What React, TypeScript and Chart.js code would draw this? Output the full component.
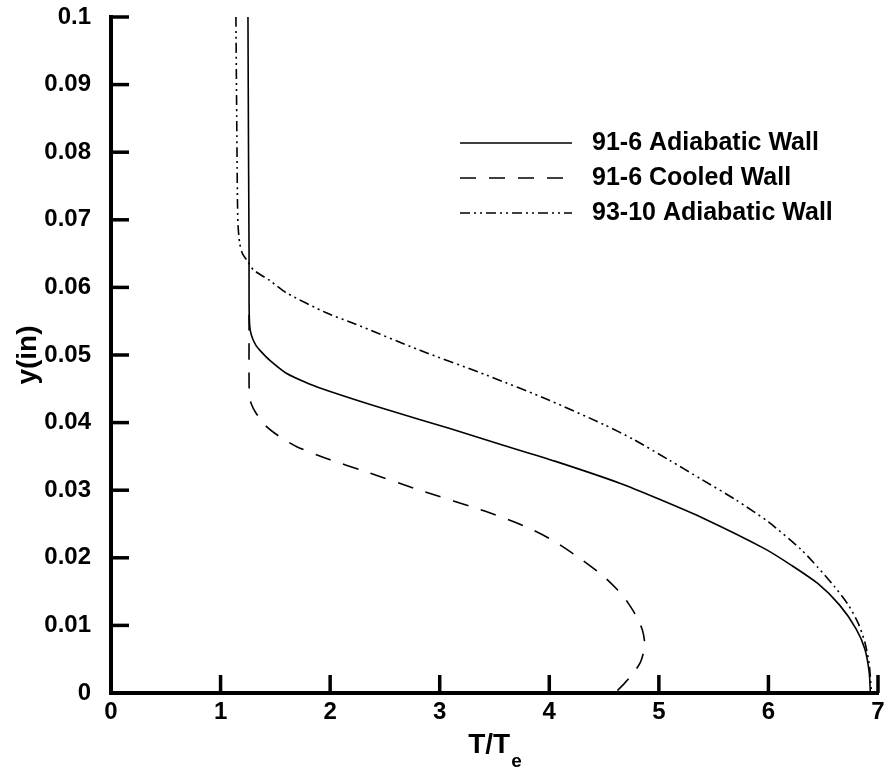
import React, { useEffect, useRef } from "react";
import { Chart, registerables } from "chart.js";

Chart.register(...registerables);

// ---- data ----
const xTickValues = [0, 1, 2, 3, 4, 5, 6, 7];
const yTickValues = [0, 0.01, 0.02, 0.03, 0.04, 0.05, 0.06, 0.07, 0.08, 0.09, 0.1];

const seriesLabels = ["91-6 Adiabatic Wall", "91-6 Cooled Wall", "93-10 Adiabatic Wall"];

// 91-6 Adiabatic Wall (solid)
const adiab916X = [1.25, 1.255, 1.26, 1.26, 1.265, 1.28, 1.32, 1.37, 1.45, 1.6, 1.8, 2.0, 2.5, 3.1, 3.55, 4.05, 4.65, 5.0, 5.4, 5.96, 6.2, 6.45, 6.65, 6.8, 6.88, 6.92, 6.93];
const adiab916Y = [0.1, 0.08, 0.065, 0.058, 0.0545, 0.053, 0.0515, 0.0505, 0.0492, 0.0473, 0.0458, 0.0446, 0.042, 0.0391, 0.0368, 0.0343, 0.031, 0.0287, 0.0259, 0.0214, 0.019, 0.0162, 0.013, 0.0095, 0.0065, 0.003, 0];

// 91-6 Cooled Wall (dashed)
const cooled916X = [1.26, 1.26, 1.265, 1.28, 1.32, 1.42, 1.55, 1.7, 2.0, 2.28, 2.82, 3.43, 3.8, 4.04, 4.29, 4.5, 4.62, 4.72, 4.8, 4.85, 4.87, 4.86, 4.83, 4.77, 4.69, 4.6];
const cooled916Y = [0.056, 0.046, 0.0438, 0.0428, 0.0415, 0.0394, 0.0378, 0.0364, 0.0345, 0.033, 0.03, 0.0268, 0.0245, 0.0225, 0.0198, 0.0172, 0.0153, 0.0133, 0.0112, 0.0093, 0.0075, 0.006, 0.0045, 0.003, 0.0015, 0];

// 93-10 Adiabatic Wall (dash-dot-dot)
const adiab9310X = [1.14, 1.15, 1.155, 1.16, 1.175, 1.2, 1.25, 1.3, 1.45, 1.6, 1.97, 2.21, 2.82, 3.43, 4.0, 4.5, 4.77, 5.1, 5.39, 5.7, 6.0, 6.3, 6.45, 6.6, 6.73, 6.82, 6.88, 6.92, 6.94];
const adiab9310Y = [0.1, 0.08, 0.072, 0.069, 0.0665, 0.065, 0.0638, 0.0626, 0.061, 0.0592, 0.0562, 0.0547, 0.0507, 0.047, 0.0433, 0.0397, 0.0375, 0.0344, 0.0316, 0.0286, 0.0253, 0.0212, 0.0186, 0.0158, 0.013, 0.0103, 0.0075, 0.0042, 0];

const FONT = "'Liberation Sans', Arial, Helvetica, sans-serif";
const dashes: number[][] = [[], [16, 13], [10, 4, 2, 4, 2, 4]];

function pts(xs: number[], ys: number[]) {
  return xs.map((x, i) => ({ x, y: ys[i] }));
}

const overlayPlugin = {
  id: "overlay",
  afterDraw(chart: any) {
    const { ctx, chartArea, scales } = chart;
    const xs = scales.x;
    const ys = scales.y;
    ctx.save();
    ctx.strokeStyle = "#000";
    ctx.fillStyle = "#000";
    ctx.lineWidth = 3.5;
    ctx.setLineDash([]);
    // inward ticks
    for (const v of yTickValues) {
      const py = ys.getPixelForValue(v);
      ctx.beginPath();
      ctx.moveTo(chartArea.left, py);
      ctx.lineTo(chartArea.left + 18, py);
      ctx.stroke();
    }
    for (const v of xTickValues) {
      const px = xs.getPixelForValue(v);
      ctx.beginPath();
      ctx.moveTo(px, chartArea.bottom);
      ctx.lineTo(px, chartArea.bottom - 18);
      ctx.stroke();
    }
    // x title with subscript
    const cx = (chartArea.left + chartArea.right) / 2;
    ctx.font = `bold 28px ${FONT}`;
    const w1 = ctx.measureText("T/T").width;
    ctx.font = `bold 19px ${FONT}`;
    const w2 = ctx.measureText("e").width;
    const x0 = cx - (w1 + w2) / 2;
    ctx.textAlign = "left";
    ctx.textBaseline = "alphabetic";
    ctx.font = `bold 28px ${FONT}`;
    ctx.fillText("T/T", x0, 753);
    ctx.font = `bold 19px ${FONT}`;
    ctx.fillText("e", x0 + w1 + 1, 767);
    // y title
    ctx.save();
    ctx.translate(28, (chartArea.top + chartArea.bottom) / 2);
    ctx.rotate(-Math.PI / 2);
    ctx.textAlign = "center";
    ctx.textBaseline = "middle";
    ctx.font = `bold 28px ${FONT}`;
    ctx.fillText("y(in)", 0, 0);
    ctx.restore();
    // legend
    const rowsY = [143, 178, 213];
    ctx.font = `bold 25px ${FONT}`;
    ctx.textAlign = "left";
    ctx.textBaseline = "middle";
    seriesLabels.forEach((lab, i) => {
      ctx.lineWidth = 1.6;
      ctx.setLineDash(dashes[i]);
      ctx.beginPath();
      ctx.moveTo(460, rowsY[i]);
      ctx.lineTo(572, rowsY[i]);
      ctx.stroke();
      ctx.setLineDash([]);
      ctx.fillText(lab, 592, rowsY[i]);
    });
    ctx.restore();
  },
};

export default function App() {
  const ref = useRef<HTMLCanvasElement | null>(null);
  useEffect(() => {
    if (!ref.current) return;
    const series = [
      pts(adiab916X, adiab916Y),
      pts(cooled916X, cooled916Y),
      pts(adiab9310X, adiab9310Y),
    ];
    const chart = new Chart(ref.current, {
      type: "scatter",
      data: {
        datasets: series.map((d, i) => ({
          label: seriesLabels[i],
          data: d,
          showLine: true,
          borderColor: "#000",
          backgroundColor: "#000",
          borderWidth: 1.6,
          borderDash: dashes[i],
          pointRadius: 0,
          tension: 0.25,
        })),
      },
      options: {
        animation: false,
        responsive: true,
        maintainAspectRatio: false,
        layout: { padding: { top: 17, right: 10, left: 0, bottom: 0 } },
        plugins: { legend: { display: false }, tooltip: { enabled: false } },
        scales: {
          x: {
            type: "linear",
            min: 0,
            max: 7,
            afterFit: (s: any) => {
              s.height = 78;
              s.paddingLeft = 0;
              s.paddingRight = 0;
            },
            afterBuildTicks: (s: any) => {
              s.ticks = xTickValues.map((v) => ({ value: v }));
            },
            ticks: {
              color: "#000",
              font: { family: FONT, weight: "bold", size: 24 },
              padding: -3,
              maxRotation: 0,
              autoSkip: false,
              callback: (v: any) => String(v),
            },
            grid: { display: false },
            border: { display: true, width: 4, color: "#000" },
          },
          y: {
            type: "linear",
            min: 0,
            max: 0.1,
            afterFit: (s: any) => {
              s.width = 111;
              s.paddingTop = 0;
              s.paddingBottom = 0;
            },
            afterBuildTicks: (s: any) => {
              s.ticks = yTickValues.map((v) => ({ value: v }));
            },
            ticks: {
              color: "#000",
              font: { family: FONT, weight: "bold", size: 24 },
              padding: 12,
              autoSkip: false,
              callback: (v: any) => String(Number(Number(v).toFixed(2))),
            },
            grid: { display: false },
            border: { display: true, width: 4, color: "#000" },
          },
        },
      },
      plugins: [overlayPlugin],
    });
    return () => chart.destroy();
  }, []);
  return (
    <div style={{ position: "fixed", left: 0, top: 0, width: 888, height: 771, background: "#fff" }}>
      <canvas ref={ref} />
    </div>
  );
}
